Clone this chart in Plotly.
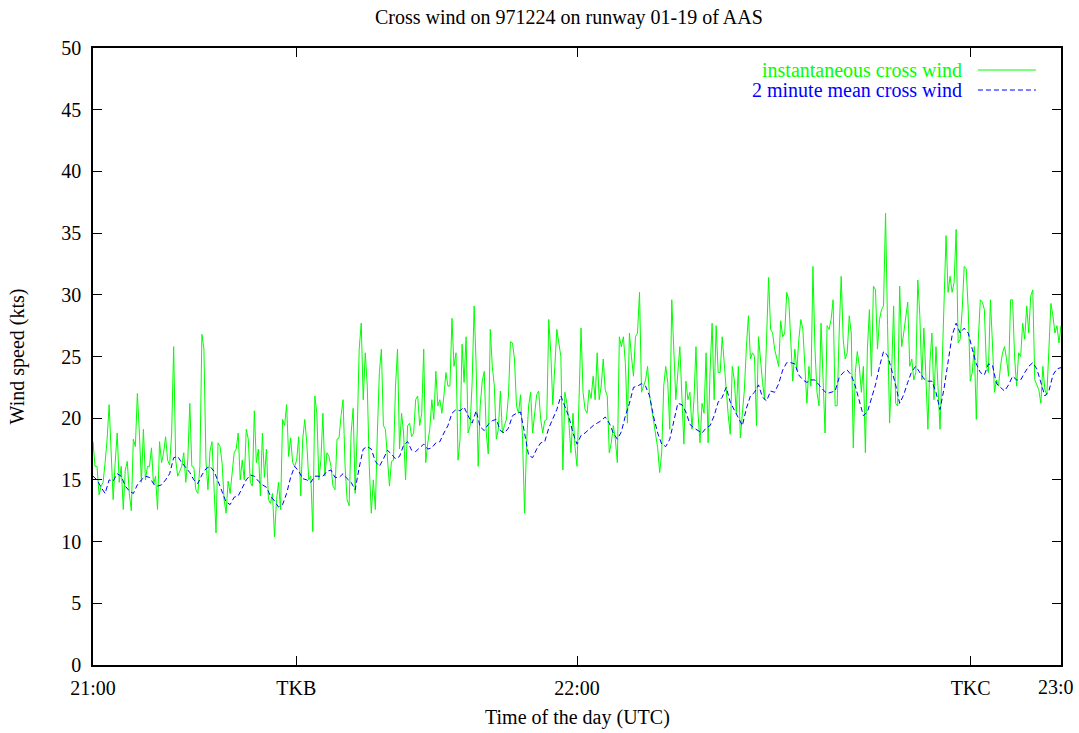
import numpy as np
import pandas as pd
import plotly.graph_objects as go

# Instantaneous cross wind (kts), one reading every 15 s from 21:00 to 23:00
inst_speed = [
    18.1, 16.1, 16.1, 13.8, 14.5, 14.8, 16.4, 18.3, 21.1, 16.6,
    13.4, 16.4, 18.8, 14.8, 16.1, 12.6, 15.8, 16.5, 13.9, 12.5,
    18.3, 17.7, 22.0, 18.8, 14.8, 19.1, 15.0, 16.1, 16.1, 17.6,
    14.6, 15.3, 12.6, 18.1, 16.4, 17.2, 18.5, 16.6, 16.2, 18.8,
    25.8, 16.6, 15.3, 15.7, 16.1, 17.2, 14.8, 16.6, 21.2, 16.1,
    16.0, 14.2, 13.9, 16.1, 26.8, 25.6, 16.6, 14.2, 17.3, 18.1,
    13.9, 10.7, 18.0, 17.7, 16.4, 13.4, 12.3, 14.9, 13.9, 15.3,
    17.2,
    17.5, 18.8, 15.0, 16.6, 15.0, 19.1, 18.3, 14.8, 14.5, 20.6,
    16.4, 17.5, 13.7, 18.8, 15.2, 17.5, 13.4, 13.1, 13.9, 10.4,
    13.4, 14.8, 12.6, 19.9, 19.4, 21.1, 16.9, 18.4, 16.4, 16.1,
    16.6, 18.5, 13.7, 18.3, 19.9, 18.0, 15.0, 15.3, 10.8, 21.8,
    20.4, 15.0, 16.6, 20.4, 15.3, 17.2, 16.9, 16.1, 14.5, 14.2,
    18.3, 18.4, 20.2, 21.5, 16.1, 13.4, 12.9, 18.8, 20.8, 13.9,
    18.8, 25.6, 27.7, 21.5, 25.3, 22.6, 16.1, 12.3, 15.0, 12.6,
    18.8, 23.7, 25.6, 19.4, 19.1, 16.6, 14.5, 16.5, 16.6, 22.6,
    25.6, 17.5, 20.4, 18.8, 15.0, 19.4, 19.6, 18.5, 18.8, 21.5,
    21.8, 19.4, 20.4, 25.6, 16.4, 18.0, 19.1, 21.5, 19.9, 23.8,
    21.0, 21.5, 20.4, 21.8, 23.7, 22.6, 22.6, 28.1, 24.2, 25.3,
    16.6, 18.3, 26.0, 22.9, 26.6, 18.8, 19.4, 22.9, 29.1, 24.2,
    16.1, 21.0, 23.0, 23.8, 18.8, 17.1, 27.2, 24.2, 22.6, 18.3,
    19.1, 22.2, 18.8, 19.4, 19.9, 21.8, 26.2, 26.1, 24.8, 21.0,
    20.4, 21.9, 18.3, 12.3, 18.0, 21.0, 22.1, 18.8, 20.2, 21.9,
    22.2, 19.9, 18.8, 19.8, 19.9, 28.0, 25.3, 21.1, 24.2, 27.2,
    26.1, 25.0, 15.8, 22.1, 21.2, 19.6, 17.2, 20.4, 17.7, 16.1,
    21.5, 27.3, 22.1, 20.7, 20.4, 22.3, 21.6, 23.4, 21.5, 25.3,
    21.5, 22.6, 24.8, 22.3, 21.8, 17.2, 18.0, 19.4, 18.3, 16.4,
    26.6, 25.8, 26.6, 24.4, 19.6, 26.9, 25.0, 23.4, 26.6, 26.9,
    30.2, 22.1, 22.6, 23.1, 24.2, 21.8, 20.8, 19.6, 18.8,
    17.6, 15.6, 17.2, 22.6, 24.2, 22.9, 19.1, 29.6, 26.1, 21.5,
    23.7, 25.8, 21.8, 17.9, 23.0, 21.5, 22.1, 19.1, 21.5, 25.8,
    20.4, 18.0, 21.2, 20.4, 25.3, 18.0, 23.9, 27.7, 21.5, 27.5,
    23.7, 23.7, 26.6, 24.5, 22.1, 20.2, 18.7, 24.2, 23.1, 20.4,
    24.2, 18.4, 20.4, 22.3, 25.8, 28.3, 24.8, 25.3, 25.0, 19.4,
    26.6, 24.5, 22.9, 21.5, 26.9, 31.4, 27.2, 26.9, 25.6, 25.0,
    24.2, 27.9, 26.6, 26.9, 30.2, 29.6, 25.8, 23.0, 25.6,
    23.9, 26.4, 28.0, 27.2, 24.2, 21.2, 24.2, 22.6, 32.3, 25.6,
    22.1, 21.0, 27.7, 23.1, 18.8, 27.5, 27.2, 28.0, 29.6, 21.0,
    21.0, 26.9, 31.5, 26.4, 24.8, 25.3, 28.3, 26.9, 17.6, 23.7,
    25.4, 24.2, 22.1, 24.2, 17.2, 25.6, 28.8, 23.4, 30.7, 30.4,
    25.6, 28.0, 28.8, 29.1, 36.6, 27.5, 19.6, 23.7, 29.1, 21.2,
    21.0, 30.7, 25.8, 26.9, 28.4, 29.4, 24.2, 24.8, 23.1, 23.7,
    31.2, 28.3, 23.1, 27.3, 23.4, 19.1, 24.5, 26.9, 21.5, 25.8,
    22.6, 19.1, 23.9, 29.1, 34.8, 30.2, 31.5, 30.2, 31.0, 35.3,
    26.1, 26.4, 28.8, 32.3, 32.1, 28.8, 23.0, 23.7, 25.8, 19.9,
    26.4, 29.6, 29.4, 28.8, 24.2, 23.7, 29.6, 26.1, 22.1, 23.1,
    22.6, 24.2, 25.3, 25.8, 24.8, 23.4, 29.6, 29.6, 24.9, 22.6,
    25.3, 25.0, 27.7, 26.4, 29.1, 26.9, 29.9, 30.4, 23.1, 22.7,
    22.3, 21.2, 24.2, 22.3, 21.9, 25.6, 29.3, 28.3, 26.9, 27.5,
    26.1, 27.5,
]

# 2 minute mean cross wind (kts), one value every 30 s
mean_speed = [
    15.3, 15.0, 14.4, 13.9, 15.0, 14.9, 15.5, 15.3, 14.5, 14.1,
    13.9, 14.6, 15.0, 15.3, 15.2, 14.7, 14.5, 14.6, 15.0, 15.5,
    16.8, 16.9, 16.4, 16.0, 15.6, 15.0, 14.7, 15.4, 15.9, 16.1,
    15.7, 14.9, 14.1, 13.2, 13.0, 13.6,
    13.7, 14.3, 15.0, 15.4, 15.3, 14.9, 14.6, 14.4, 13.7, 13.3,
    12.8, 13.0, 13.9, 15.2, 16.1, 15.7, 15.1, 15.0, 14.8, 15.3,
    15.3, 15.3, 15.7, 15.8, 15.2, 15.2, 15.5, 15.1, 14.8, 14.2,
    16.0, 17.5, 17.7, 17.5,
    16.5, 16.1, 16.7, 17.4, 17.1, 16.7, 16.9, 17.8, 18.1, 17.4,
    17.3, 17.6, 17.9, 17.5, 17.6, 18.0, 18.1, 18.8, 19.4, 20.4,
    20.7, 20.6, 20.9, 20.2, 19.6, 20.6, 19.3, 19.0, 19.5, 19.8,
    19.9, 19.0, 18.8, 19.2, 20.2,
    20.4, 20.5, 18.8, 17.0, 16.8, 17.5, 18.0, 18.1, 19.2, 19.9,
    20.7, 21.8, 20.9, 20.1, 18.8, 17.9, 18.6, 18.8, 19.1, 19.4,
    19.6, 19.8, 20.1, 19.6, 18.8, 18.3, 18.9, 20.2, 21.2, 22.5,
    22.6, 22.8, 22.6, 21.8, 20.1,
    18.8, 17.9, 17.7, 18.3, 19.8, 21.2, 21.1, 20.5, 19.5, 19.2,
    19.0, 18.8, 19.2, 19.4, 20.2, 21.3, 21.7, 22.5, 21.3, 20.7,
    20.0, 19.4, 20.8, 21.8, 22.1, 22.7, 21.7, 21.4, 22.2, 22.1,
    22.8, 23.9, 24.5, 24.5, 24.4,
    23.5, 23.1, 22.9, 23.1, 23.1, 22.7, 22.3, 22.0, 22.1, 22.2,
    23.3, 23.7, 23.9, 23.5, 22.6, 21.5, 20.2, 20.5, 21.6, 22.7,
    24.2, 25.4, 25.1, 24.0, 22.7, 21.2, 21.9, 22.9, 23.8, 24.2,
    23.7, 23.2, 23.0, 23.0, 22.1,
    20.7, 22.4, 24.5, 26.7, 27.7, 26.9, 27.3, 26.9, 25.6, 24.4,
    23.7, 23.5, 24.4, 24.3, 22.8, 22.5, 22.2, 22.7, 23.4, 23.1,
    23.1, 23.7, 24.2, 24.5, 24.0, 22.9, 21.8, 22.2, 23.5, 24.0,
    24.1,
]

day = "1997-12-24"
inst_time = pd.date_range(f"{day} 21:00:00", periods=len(inst_speed), freq="15s")
mean_time = pd.date_range(f"{day} 21:00:00", periods=len(mean_speed), freq="30s")

# Time axis labels: hours plus the two runway events; the last hour label
# sits at the right edge of the page and is written separately
tick_times = [f"{day} 21:00:00", f"{day} 21:25:12", f"{day} 22:00:00",
              f"{day} 22:48:48", f"{day} 23:00:00"]
tick_labels = ["21:00", "TKB", "22:00", "TKC", ""]
edge_label = "23:0"
y_ticks = [0, 5, 10, 15, 20, 25, 30, 35, 40, 45, 50]

series_names = ["instantaneous cross wind", "2 minute mean cross wind"]
series_colors = ["#00ff00", "#0000ff"]

FONT = "Liberation Serif, Times New Roman, serif"

fig = go.Figure()
fig.add_trace(go.Scatter(x=inst_time, y=inst_speed, mode="lines",
                         name=series_names[0],
                         line=dict(color=series_colors[0], width=1)))
fig.add_trace(go.Scatter(x=mean_time, y=mean_speed, mode="lines",
                         name=series_names[1],
                         line=dict(color=series_colors[1], width=1, dash="5px,3px")))

axis_common = dict(
    showline=True, linecolor="black", linewidth=1.5, mirror="ticks",
    ticks="inside", ticklen=9, tickwidth=1, tickcolor="black",
    showgrid=False, zeroline=False, automargin=False,
    tickfont=dict(family=FONT, size=20, color="black"),
)

fig.update_xaxes(range=[f"{day} 21:00:00", f"{day} 23:00:00"],
                 tickvals=tick_times, ticktext=tick_labels,
                 ticklabelstandoff=4, **axis_common)
fig.update_yaxes(range=[0, 50], tickvals=y_ticks,
                 ticklabelstandoff=6, **axis_common)

fig.add_annotation(xref="paper", yref="paper", x=0.9742, y=-0.0357,
                   xanchor="left", yanchor="middle", showarrow=False,
                   text=edge_label,
                   font=dict(family=FONT, size=20, color="black"))

# gnuplot-style key: coloured text followed by a line sample
key_rows_y = [0.9643, 0.9319]
for name, color, y in zip(series_names, series_colors, key_rows_y):
    fig.add_annotation(xref="paper", yref="paper", x=0.8997, y=y,
                       xanchor="right", yanchor="middle", showarrow=False,
                       text=name, font=dict(family=FONT, size=20, color=color))
fig.add_shape(type="line", xref="paper", yref="paper",
              x0=0.9142, x1=0.9741, y0=key_rows_y[0], y1=key_rows_y[0],
              line=dict(color=series_colors[0], width=1))
fig.add_shape(type="line", xref="paper", yref="paper",
              x0=0.9142, x1=0.9741, y0=key_rows_y[1], y1=key_rows_y[1],
              line=dict(color=series_colors[1], width=1, dash="5px,3px"))

fig.add_annotation(xref="paper", yref="paper", x=0.4922, y=1.0502,
                   xanchor="center", yanchor="middle", showarrow=False,
                   text="Cross wind on 971224 on runway 01-19 of AAS",
                   font=dict(family=FONT, size=20, color="black"))
fig.add_annotation(xref="paper", yref="paper", x=0.5, y=-0.0843,
                   xanchor="center", yanchor="middle", showarrow=False,
                   text="Time of the day (UTC)",
                   font=dict(family=FONT, size=20, color="black"))
fig.add_annotation(xref="paper", yref="paper", x=-0.0776, y=0.5,
                   xanchor="center", yanchor="middle", showarrow=False,
                   textangle=-90, text="Wind speed (kts)",
                   font=dict(family=FONT, size=20, color="black"))

fig.update_layout(
    width=1079, height=733,
    margin=dict(l=93, r=18, t=48, b=68),
    paper_bgcolor="white", plot_bgcolor="white",
    showlegend=False,
)

fig.write_html("out.html")
